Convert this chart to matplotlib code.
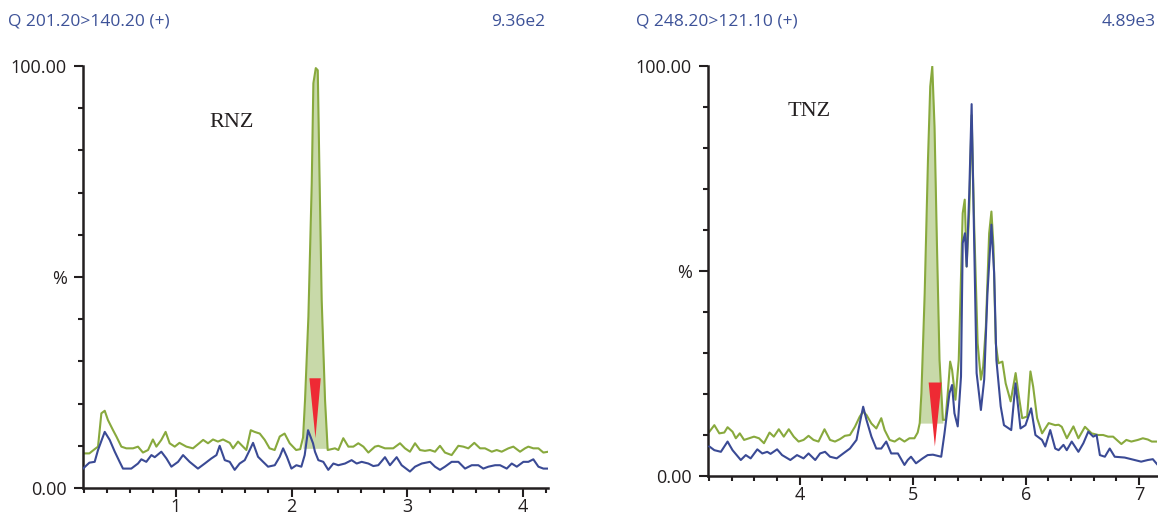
import matplotlib
matplotlib.use("Agg")
import matplotlib.pyplot as plt
from matplotlib.ticker import MultipleLocator, FixedLocator, FixedFormatter

plt.rcParams['font.family'] = ['Open Sans', 'DejaVu Sans']

# ---- RNZ channel (left) ----
rnz_title = "Q 201.20>140.20 (+)"
rnz_scale = "9.36e2"
rnz_green_t = [0.195, 0.25, 0.296, 0.325, 0.354, 0.383, 0.411, 0.455, 0.484, 0.527, 0.57, 0.628,
               0.671, 0.714, 0.758, 0.8, 0.83, 0.873, 0.91, 0.945, 0.989, 1.03, 1.09, 1.147,
               1.205, 1.235, 1.277, 1.32, 1.363, 1.407, 1.465, 1.494, 1.537, 1.58, 1.609, 1.647,
               1.68, 1.725, 1.768, 1.81, 1.854, 1.898, 1.94, 1.984, 2.04, 2.075, 2.1, 2.117,
               2.146, 2.175, 2.189, 2.21, 2.227, 2.241, 2.261, 2.29, 2.313, 2.376, 2.405, 2.448,
               2.492, 2.535, 2.578, 2.622, 2.665, 2.722, 2.751, 2.809, 2.88, 2.939, 2.982, 3.025,
               3.069, 3.112, 3.155, 3.199, 3.242, 3.285, 3.328, 3.386, 3.444, 3.487, 3.53, 3.582,
               3.632, 3.675, 3.733, 3.776, 3.819, 3.877, 3.92, 3.978, 4.021, 4.05, 4.093, 4.137,
               4.18, 4.223]
rnz_green = [8.2, 8.2, 9.2, 9.8, 17.7, 18.3, 16.1, 13.7, 12.2, 9.8, 9.4, 9.4,
             9.8, 8.4, 9.0, 11.5, 9.8, 11.4, 13.3, 10.6, 9.8, 10.7, 9.8, 9.4,
             10.7, 11.4, 10.6, 11.5, 11.0, 11.5, 10.7, 9.4, 11.0, 9.8, 9.0, 13.7,
             13.3, 12.9, 11.4, 9.4, 9.0, 12.2, 12.9, 10.6, 9.0, 9.2, 12.0, 20.9,
             40.6, 72.2, 95.9, 99.5, 99.0, 76.0, 44.6, 20.9, 9.0, 9.4, 9.0, 11.8,
             9.8, 9.8, 10.6, 9.8, 8.4, 9.8, 10.0, 9.4, 9.4, 10.6, 9.4, 8.6,
             10.6, 9.0, 8.8, 9.0, 8.6, 10.0, 8.4, 7.8, 10.0, 9.8, 9.4, 10.7,
             9.4, 9.4, 8.6, 9.0, 8.6, 9.4, 9.8, 8.6, 9.4, 9.8, 9.4, 9.4,
             8.4, 8.6]
rnz_blue_t = [0.195, 0.25, 0.296, 0.325, 0.383, 0.426, 0.47, 0.512, 0.541, 0.613, 0.671, 0.7,
              0.743, 0.787, 0.816, 0.873, 0.917, 0.96, 1.018, 1.061, 1.118, 1.19, 1.249, 1.306,
              1.35, 1.378, 1.422, 1.465, 1.508, 1.551, 1.595, 1.638, 1.667, 1.71, 1.754, 1.797,
              1.855, 1.898, 1.927, 1.96, 1.999, 2.042, 2.085, 2.114, 2.143, 2.186, 2.203, 2.232,
              2.275, 2.318, 2.362, 2.405, 2.463, 2.52, 2.564, 2.607, 2.665, 2.708, 2.751, 2.809,
              2.852, 2.91, 2.953, 3.025, 3.069, 3.127, 3.199, 3.242, 3.285, 3.328, 3.386, 3.444,
              3.502, 3.56, 3.617, 3.66, 3.704, 3.762, 3.805, 3.863, 3.906, 3.95, 4.007, 4.05,
              4.093, 4.137, 4.18, 4.223]
rnz_blue = [4.6, 6.0, 6.2, 9.0, 13.3, 11.4, 8.6, 6.2, 4.6, 4.6, 5.8, 6.8,
            6.2, 7.8, 7.3, 8.6, 7.0, 5.05, 6.2, 7.8, 6.2, 4.6, 5.8, 7.0,
            7.8, 10.0, 6.6, 6.2, 4.3, 5.8, 6.6, 9.0, 10.7, 7.4, 6.2, 5.05,
            5.4, 7.4, 9.4, 7.4, 4.6, 5.4, 5.05, 7.8, 13.7, 10.6, 8.6, 6.6,
            6.2, 4.3, 5.8, 5.4, 5.8, 6.6, 5.8, 6.2, 5.8, 5.2, 5.4, 7.3,
            5.4, 7.3, 5.4, 3.9, 5.05, 5.8, 6.2, 5.05, 4.3, 5.05, 6.2, 6.2,
            4.6, 5.4, 5.4, 4.6, 5.05, 5.4, 5.4, 4.6, 5.8, 5.05, 6.2, 6.2,
            6.8, 5.05, 4.6, 4.6]
rnz_peak = [2.1, 2.313, 9.4]          # start, end, baseline of integrated area
rnz_marker = [2.155, 2.253, 26.0, 2.207, 11.8]  # left, right, top, tip x, tip y

# ---- TNZ channel (right) ----
tnz_title = "Q 248.20>121.10 (+)"
tnz_scale = "4.89e3"
tnz_green_t = [3.202, 3.246, 3.29, 3.334, 3.363, 3.407, 3.436, 3.471, 3.509, 3.553, 3.597, 3.641,
               3.685, 3.734, 3.772, 3.816, 3.86, 3.904, 3.948, 3.991, 4.035, 4.079, 4.123, 4.167,
               4.22, 4.269, 4.313, 4.357, 4.4, 4.445, 4.489, 4.532, 4.562, 4.591, 4.635, 4.678,
               4.722, 4.752, 4.796, 4.84, 4.883, 4.927, 4.971, 5.015, 5.044, 5.062, 5.077, 5.106,
               5.135, 5.155, 5.173, 5.193, 5.214, 5.237, 5.267, 5.29, 5.31, 5.331, 5.348, 5.378,
               5.407, 5.427, 5.442, 5.46, 5.477, 5.5, 5.521, 5.544, 5.574, 5.603, 5.623, 5.647,
               5.676, 5.696, 5.714, 5.734, 5.758, 5.793, 5.822, 5.866, 5.91, 5.939, 5.968, 6.012,
               6.041, 6.065, 6.1, 6.144, 6.202, 6.26, 6.29, 6.318, 6.363, 6.421, 6.465, 6.523,
               6.582, 6.64, 6.684, 6.728, 6.772, 6.845, 6.889, 6.933, 6.991, 7.035, 7.079, 7.114,
               7.16]
tnz_green = [10.8, 12.4, 10.4, 10.6, 11.9, 10.8, 9.2, 10.4, 8.8, 9.2, 9.6, 9.2,
             8.0, 10.6, 9.6, 11.4, 9.6, 11.4, 9.6, 8.4, 8.8, 9.8, 8.8, 8.4,
             11.4, 8.8, 8.4, 9.0, 9.8, 10.0, 12.0, 14.5, 15.7, 14.9, 12.8, 11.6,
             14.1, 11.2, 8.8, 8.4, 9.2, 8.4, 9.2, 9.2, 10.6, 12.9, 20.2, 44.6,
             77.1, 95.0, 99.9, 85.2, 56.8, 28.3, 13.7, 13.7, 20.2, 27.9, 25.9, 18.6,
             28.3, 48.7, 64.1, 67.4, 51.1, 64.9, 88.0, 60.8, 32.4, 23.5, 26.7, 36.5,
             59.2, 64.5, 56.0, 32.4, 27.5, 27.9, 22.6, 18.2, 25.1, 19.4, 14.1, 14.5,
             25.5, 21.8, 14.1, 10.4, 12.9, 12.4, 12.5, 12.0, 9.2, 12.1, 9.2, 12.0,
             10.4, 10.0, 10.0, 9.6, 9.6, 7.8, 8.8, 8.4, 8.8, 9.2, 8.9, 8.4,
             8.4]
tnz_blue_t = [3.202, 3.246, 3.304, 3.363, 3.407, 3.48, 3.524, 3.567, 3.626, 3.67, 3.714, 3.743,
              3.801, 3.845, 3.918, 3.977, 4.035, 4.079, 4.138, 4.181, 4.225, 4.269, 4.328, 4.386,
              4.445, 4.503, 4.532, 4.562, 4.591, 4.635, 4.678, 4.722, 4.766, 4.81, 4.869, 4.927,
              4.956, 4.985, 5.029, 5.088, 5.132, 5.179, 5.252, 5.281, 5.325, 5.348, 5.369, 5.398,
              5.427, 5.442, 5.462, 5.477, 5.5, 5.521, 5.541, 5.565, 5.603, 5.632, 5.661, 5.696,
              5.72, 5.74, 5.778, 5.807, 5.85, 5.871, 5.909, 5.953, 5.997, 6.047, 6.085, 6.143,
              6.172, 6.216, 6.26, 6.29, 6.333, 6.362, 6.406, 6.465, 6.509, 6.552, 6.596, 6.626,
              6.655, 6.699, 6.742, 6.786, 6.874, 6.933, 7.02, 7.079, 7.123, 7.16]
tnz_blue = [7.2, 6.3, 5.9, 8.4, 6.3, 3.9, 5.1, 4.3, 6.5, 5.5, 5.9, 5.4,
            6.5, 5.1, 3.9, 5.1, 4.3, 5.5, 3.9, 5.5, 5.9, 4.7, 4.3, 5.5,
            6.7, 8.8, 12.9, 16.9, 13.7, 9.6, 6.7, 6.7, 8.4, 5.5, 5.5, 2.7,
            3.9, 4.7, 3.1, 4.3, 5.1, 5.2, 4.7, 10.4, 20.2, 22.2, 15.3, 12.1,
            24.3, 56.8, 59.2, 51.1, 69.0, 90.7, 60.8, 25.1, 16.1, 23.5, 44.6, 61.3,
            49.5, 28.3, 17.0, 12.4, 11.6, 11.2, 22.6, 11.6, 12.4, 16.5, 10.0, 8.8,
            7.2, 11.2, 6.7, 6.3, 7.6, 6.3, 8.4, 5.9, 8.0, 10.8, 9.6, 10.0,
            5.1, 4.7, 6.7, 4.7, 4.5, 4.1, 3.5, 3.9, 4.1, 2.9]
tnz_peak = [5.062, 5.281, 12.9]
tnz_marker = [5.141, 5.255, 22.8, 5.196, 7.2]

GREEN = '#88a93d'
FILL = '#c8d9a9'
BLUE = '#3a4a95'
RED = '#ee2a34'
HEAD = '#3d5298'
INK = '#231f20'

W, H = 1158, 518
fig = plt.figure(figsize=(W / 100, H / 100), dpi=100)


def draw_panel(rect, gt, gy, bt, by, peak, marker, xlim, xmajor, name, name_xy):
    ax = fig.add_axes(rect)
    # integrated peak area
    sel = [i for i, t in enumerate(gt) if peak[0] <= t <= peak[1]]
    ax.fill_between([gt[i] for i in sel], [gy[i] for i in sel], peak[2],
                    color=FILL, lw=0, zorder=1)
    ax.plot(gt, gy, color=GREEN, lw=1.5, zorder=2)
    ax.plot(bt, by, color=BLUE, lw=1.5, zorder=3)
    l, r, top, tx, ty = marker
    ax.fill([l, r, tx], [top, top, ty], color=RED, lw=0, zorder=4)
    ax.text(name_xy[0], name_xy[1], name, family='Liberation Serif', fontsize=16,
            color=INK, ha='center', va='center')

    ax.set_xlim(*xlim)
    ax.set_ylim(0, 100)
    for s in ['top', 'right']:
        ax.spines[s].set_visible(False)
    for s in ['left', 'bottom']:
        ax.spines[s].set_linewidth(1.8)
        ax.spines[s].set_color(INK)
    ax.xaxis.set_major_locator(FixedLocator(xmajor))
    ax.xaxis.set_minor_locator(MultipleLocator(0.2))
    ax.yaxis.set_major_locator(FixedLocator([0, 50, 100]))
    ax.yaxis.set_major_formatter(FixedFormatter(['0.00', '%', '100.00']))
    ax.yaxis.set_minor_locator(MultipleLocator(10))
    ax.tick_params(which='major', length=6.5, width=1.5, color=INK, labelsize=13,
                   labelcolor=INK)
    ax.tick_params(which='minor', length=3.6, width=1.5, color=INK)
    ax.tick_params(axis='y', which='major', pad=5)
    ax.tick_params(axis='x', which='major', pad=0.5)
    return ax


draw_panel([83 / W, 30 / H, 465 / W, 422 / H], rnz_green_t, rnz_green, rnz_blue_t, rnz_blue,
           rnz_peak, rnz_marker, (0.195, 4.22), [1, 2, 3, 4], 'RNZ', (1.485, 86.5))
draw_panel([708 / W, 42 / H, 449 / W, 410 / H], tnz_green_t, tnz_green, tnz_blue_t, tnz_blue,
           tnz_peak, tnz_marker, (3.19, 7.16), [4, 5, 6, 7], 'TNZ', (4.08, 88.8))

# channel headers
fig.text(8 / W, 1 - 22 / H, rnz_title, color=HEAD, fontsize=12.5, ha='left', va='center')
fig.text(545 / W, 1 - 22 / H, rnz_scale, color=HEAD, fontsize=12.5, ha='right', va='center')
fig.text(636 / W, 1 - 22 / H, tnz_title, color=HEAD, fontsize=12.5, ha='left', va='center')
fig.text(1156 / W, 1 - 22 / H, tnz_scale, color=HEAD, fontsize=12.5, ha='right', va='center')

fig.savefig('out.png', dpi=100)
